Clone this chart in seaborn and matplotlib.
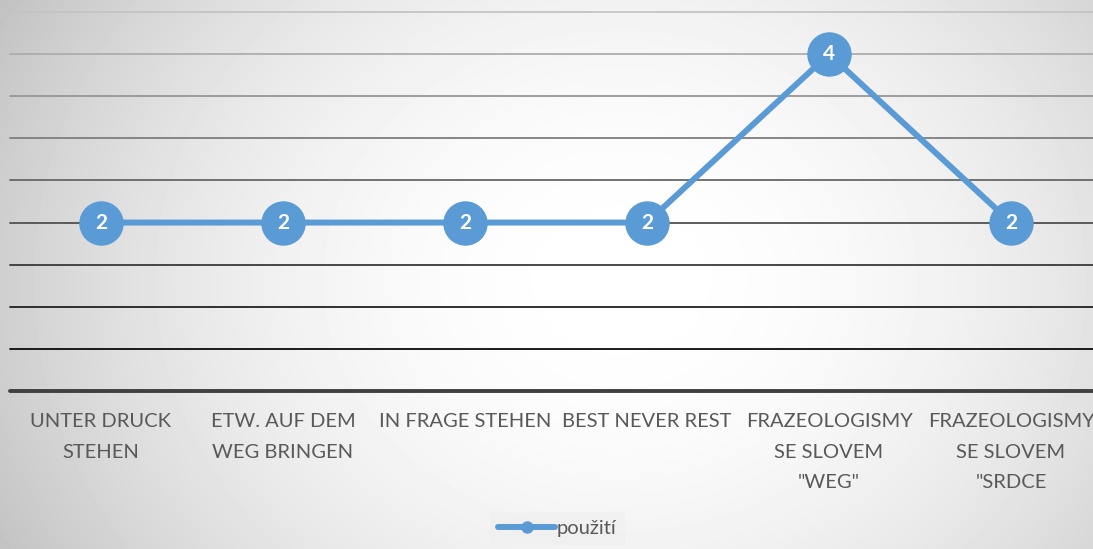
import matplotlib
matplotlib.use("Agg")
import matplotlib.pyplot as plt
import matplotlib.colors as mcolors
from matplotlib.lines import Line2D
import numpy as np
import pandas as pd
import seaborn as sns

# data
categories = ["UNTER DRUCK\nSTEHEN", "ETW. AUF DEM\nWEG BRINGEN", "IN FRAGE STEHEN",
              "BEST NEVER REST", "FRAZEOLOGISMY\nSE SLOVEM\n\"WEG\"",
              "FRAZEOLOGISMY\nSE SLOVEM\n\"SRDCE"]
values = [2, 2, 2, 2, 4, 2]
series_name = "použití"
grid_levels = [0.5, 1.0, 1.5, 2.0, 2.5, 3.0, 3.5, 4.0, 4.5]

blue = "#5B9BD5"
text_grey = "#595959"

sns.set_theme(style="white")
plt.rcParams["font.family"] = ["Lato", "DejaVu Sans"]

W, H = 1093, 549
fig = plt.figure(figsize=(W / 100, H / 100), dpi=100)

# radial grey background
bg = fig.add_axes([0, 0, 1, 1], zorder=0)
yy, xx = np.mgrid[0:H, 0:W]
r = np.sqrt(((xx - 620) / 640.0) ** 2 + ((yy - 280) / 540.0) ** 2)
shade = 1 - 0.2 * np.clip(r, 0, 1.2) ** 2
bg.imshow(shade, cmap="gray", vmin=0, vmax=1, aspect="auto", interpolation="bilinear")
bg.axis("off")

ax = fig.add_axes([10 / W, 1 - 391 / H, 1092 / W, 379 / H], zorder=1)
ax.patch.set_alpha(0)

# gridlines fade from light grey at the top to black near the bottom
top_col = np.array(mcolors.to_rgb("#c4c4c4"))
bot_col = np.array(mcolors.to_rgb("#0a0a0a"))
for lvl in grid_levels:
    t = (lvl - min(grid_levels)) / (max(grid_levels) - min(grid_levels))
    col = bot_col + (top_col - bot_col) * t
    ax.axhline(lvl, color=col, lw=1.3, zorder=1, clip_on=False)
ax.axhline(0, color="#404040", lw=2.8, zorder=1, clip_on=False)

df = pd.DataFrame({"kategorie": range(len(categories)), "pocet": values})
sns.lineplot(data=df, x="kategorie", y="pocet", ax=ax, color=blue, linewidth=4.3,
             marker="o", markersize=32, markeredgewidth=0, legend=False, zorder=3)

for i, v in enumerate(values):
    ax.text(i, v, str(v), ha="center", va="center", color="white",
            fontsize=15, fontweight="bold", zorder=4)

ax.set_xlim(-0.5, len(categories) - 0.5)
ax.set_ylim(0, 4.5)
ax.set_xticks(range(len(categories)))
ax.set_xticklabels(categories, fontsize=14.5, color=text_grey, linespacing=1.95)
ax.tick_params(axis="x", length=0, pad=16)
ax.set_yticks([])
ax.set_xlabel("")
ax.set_ylabel("")
for s in ax.spines.values():
    s.set_visible(False)

handle = Line2D([0], [0], color=blue, lw=4.3, marker="o", markersize=9,
                markeredgewidth=0)
leg = fig.legend([handle], [series_name], loc="upper center",
                 bbox_to_anchor=(557.5 / W, 1 - 512 / H), frameon=True,
                 fancybox=False, facecolor="#f0f0f0", edgecolor="none",
                 fontsize=14.5, handlelength=2.8, handletextpad=0.1,
                 borderpad=0.4, borderaxespad=0)
for t in leg.get_texts():
    t.set_color(text_grey)

fig.savefig("out.png", dpi=100)
